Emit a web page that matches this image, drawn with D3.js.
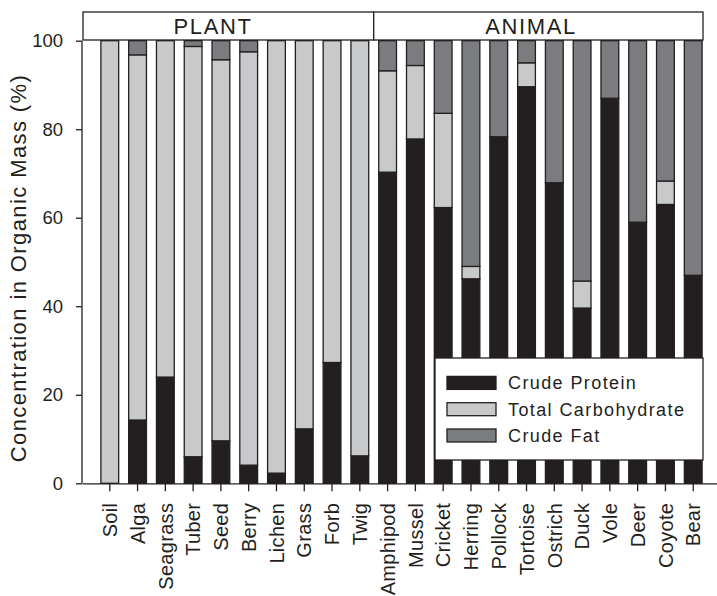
<!DOCTYPE html>
<html>
<head>
<meta charset="utf-8">
<script src="https://cdn.jsdelivr.net/npm/d3@7"></script>
<style>
  html, body { margin: 0; padding: 0; background: #fff; }
  svg { display: block; font-family: "Liberation Sans", Arial, Helvetica, sans-serif; }
</style>
</head>
<body>
<svg id="chart" width="717" height="596"></svg>
<script>
// Proximate composition of organic mass, by food item
const categories = ["Soil", "Alga", "Seagrass", "Tuber", "Seed", "Berry", "Lichen", "Grass", "Forb", "Twig",
  "Amphipod", "Mussel", "Cricket", "Herring", "Pollock", "Tortoise", "Ostrich", "Duck", "Vole", "Deer", "Coyote", "Bear"];
const crudeProtein = [0, 14.3, 24.0, 6.0, 9.6, 4.1, 2.3, 12.3, 27.3, 6.2,
  70.3, 77.8, 62.3, 46.2, 78.3, 89.6, 67.9, 39.6, 87.0, 59.0, 63.0, 47.0];
const totalCarbohydrate = [100, 82.5, 76.0, 92.7, 86.1, 93.4, 97.7, 87.7, 72.7, 93.8,
  22.9, 16.6, 21.3, 2.8, 0, 5.4, 0, 6.1, 0, 0, 5.3, 0];
const crudeFat = [0, 3.2, 0, 1.3, 4.3, 2.5, 0, 0, 0, 0,
  6.8, 5.6, 16.4, 51.0, 21.7, 5.0, 32.1, 54.3, 13.0, 41.0, 31.7, 53.0];
const groups = [
  { name: "PLANT", first: "Soil", last: "Twig" },
  { name: "ANIMAL", first: "Amphipod", last: "Bear" }
];
const seriesNames = ["Crude Protein", "Total Carbohydrate", "Crude Fat"];
const yTicks = [0, 20, 40, 60, 80, 100];

const colors = { "Crude Protein": "#231f20", "Total Carbohydrate": "#c8c9cb", "Crude Fat": "#7b7c7f" };
const ink = "#231f20";

const svg = d3.select("#chart");
const plotLeft = 82, plotRight = 721, plotTop = 40.7, plotBottom = 483.3;

const x = d3.scaleBand().domain(categories).range([plotLeft, plotRight]).paddingInner(0.36).paddingOuter(0.68);
const y = d3.scaleLinear().domain([0, 100]).range([plotBottom, plotTop]);

// stacked rows
const rows = categories.map((c, i) => ({
  cat: c,
  "Crude Protein": crudeProtein[i],
  "Total Carbohydrate": totalCarbohydrate[i],
  "Crude Fat": crudeFat[i]
}));
const stacked = d3.stack().keys(seriesNames)(rows);

const barG = svg.append("g");
stacked.forEach(layer => {
  barG.append("g")
    .attr("fill", colors[layer.key])
    .attr("stroke", ink)
    .attr("stroke-width", 1.3)
    .selectAll("rect")
    .data(layer.filter(d => d[1] - d[0] > 0))
    .join("rect")
    .attr("x", d => x(d.data.cat))
    .attr("width", x.bandwidth())
    .attr("y", d => y(d[1]))
    .attr("height", d => y(d[0]) - y(d[1]));
});

// y axis
const yAxis = svg.append("g")
  .attr("transform", `translate(${plotLeft},0)`)
  .call(d3.axisLeft(y).tickValues(yTicks).tickSize(6).tickPadding(13).tickFormat(d3.format("d")));
yAxis.select(".domain").attr("stroke", ink).attr("stroke-width", 1.3).attr("d", `M0,${plotBottom}V${plotTop}`);
yAxis.selectAll(".tick line").attr("stroke", ink).attr("stroke-width", 1.3);
yAxis.selectAll(".tick text").attr("fill", ink).attr("font-size", 18.5).attr("font-family", null);

// x axis
const xAxis = svg.append("g")
  .attr("transform", `translate(0,${plotBottom})`)
  .call(d3.axisBottom(x).tickSize(8).tickSizeOuter(0));
xAxis.select(".domain").attr("stroke", ink).attr("stroke-width", 1.3);
xAxis.selectAll(".tick line").attr("stroke", ink).attr("stroke-width", 1.3);
xAxis.selectAll(".tick text")
  .attr("fill", ink)
  .attr("font-size", 20)
  .attr("font-family", null)
  .attr("letter-spacing", 0.3)
  .attr("text-anchor", "end")
  .attr("transform", "rotate(-90)")
  .attr("x", -19.5)
  .attr("y", 0)
  .attr("dy", "0.36em");

// y title
svg.append("text")
  .attr("transform", "translate(26,268) rotate(-90)")
  .attr("text-anchor", "middle")
  .attr("font-size", 22)
  .attr("letter-spacing", 1.4)
  .attr("fill", ink)
  .text("Concentration in Organic Mass (%)");

// group header boxes
const boxTop = 12, boxBottom = 40;
const divider = (x(groups[0].last) + x.bandwidth() / 2 + x(groups[1].first) + x.bandwidth() / 2) / 2;
const headerSpans = [
  { name: groups[0].name, x0: 83, x1: divider, tx: 213 },
  { name: groups[1].name, x0: divider, x1: 703, tx: 531 }
];
const hdr = svg.append("g");
hdr.selectAll("rect").data(headerSpans).join("rect")
  .attr("x", d => d.x0).attr("y", boxTop)
  .attr("width", d => d.x1 - d.x0).attr("height", boxBottom - boxTop)
  .attr("fill", "#fff").attr("stroke", ink).attr("stroke-width", 1.3);
hdr.selectAll("text").data(headerSpans).join("text")
  .attr("x", d => d.tx).attr("y", 34.3)
  .attr("text-anchor", "middle")
  .attr("font-size", 22)
  .attr("letter-spacing", 1.6)
  .attr("fill", ink)
  .text(d => d.name);

// legend
const lg = svg.append("g");
lg.append("rect")
  .attr("x", 435).attr("y", 358).attr("width", 268).attr("height", 102)
  .attr("fill", "#fff").attr("stroke", ink).attr("stroke-width", 1.3);
const legendItems = lg.selectAll("g.item").data(seriesNames).join("g")
  .attr("class", "item")
  .attr("transform", (d, i) => `translate(447,${376.4 + i * 26.3})`);
legendItems.append("rect")
  .attr("width", 49).attr("height", 13)
  .attr("fill", d => colors[d]).attr("stroke", ink).attr("stroke-width", 1.3);
legendItems.append("text")
  .attr("x", 61).attr("y", 13)
  .attr("font-size", 18)
  .attr("letter-spacing", 1.4)
  .attr("fill", ink)
  .text(d => d);
</script>
</body>
</html>
